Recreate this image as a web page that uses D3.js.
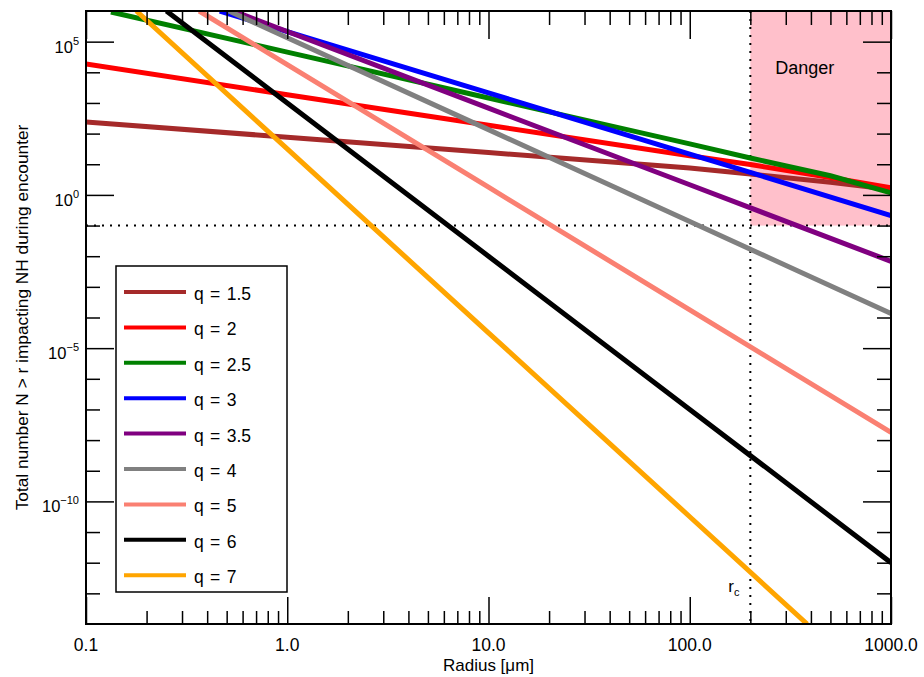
<!DOCTYPE html>
<html>
<head>
<meta charset="utf-8">
<script src="https://cdn.jsdelivr.net/npm/d3@7"></script>
<style>
  body { margin: 0; background: #fff; }
  svg { font-family: "Liberation Sans", Arial, Helvetica, sans-serif; }
</style>
</head>
<body>
<div id="chart"></div>
<script>
// size distributions, values as [radius um, N(>r)]
var q15 = [[0.1, 240], [1, 76], [10, 24], [100, 7.6], [200, 4.8], [500, 2.6], [1000, 1.5]];
var q2  = [[0.1, 1.86e4], [1, 1.86e3], [10, 186], [100, 19], [200, 9.8], [500, 3.7], [1000, 1.7]];
var q25 = [[0.133, 9.3e5], [1, 4.57e4], [10, 1.45e3], [100, 46], [200, 16], [500, 4.2], [1000, 1.17]];
var q3  = [[0.462, 1e6], [1, 2.14e5], [10, 2.14e3], [100, 21.4], [200, 5.4], [1000, 0.21]];
var q35 = [[0.54, 1e6], [1, 2.14e5], [10, 676], [100, 2.14], [1000, 0.0068]];
var q4  = [[0.513, 1e6], [1, 1.35e5], [10, 135], [100, 0.135], [1000, 1.35e-4]];
var q5  = [[0.365, 1e6], [1, 1.78e4], [10, 1.78], [100, 1.78e-4], [1000, 1.78e-8]];
var q6  = [[0.251, 1e6], [1, 1e3], [10, 1e-2], [100, 1e-7], [1000, 1e-12]];
var q7  = [[0.178, 1e6], [1, 31.6], [10, 3.16e-5], [100, 3.16e-11], [383, 1e-14]];

var seriesData = [q15, q2, q25, q3, q35, q4, q5, q6, q7];
var seriesNames = ["q = 1.5", "q = 2", "q = 2.5", "q = 3", "q = 3.5", "q = 4", "q = 5", "q = 6", "q = 7"];
var seriesColors = ["#a52a2a", "#ff0000", "#008000", "#0000ff", "#800080", "#808080", "#fa8072", "#000000", "#ffa500"];

var xMajor = [0.1, 1, 10, 100, 1000];
var xLabels = ["0.1", "1.0", "10.0", "100.0", "1000.0"];
var yMajor = [1e5, 1, 1e-5, 1e-10];
var yExp = ["5", "0", "\u22125", "\u221210"];

var rCrit = 200, nCrit = 0.1;

var w = 924, h = 677,
    p = {"top": 11, "right": 33, "bottom": 53, "left": 86};

var x = d3.scaleLog().domain([0.1, 1000]).range([p.left, w - p.right]);
var y = d3.scaleLog().domain([1e-14, 1e6]).range([h - p.bottom, p.top]);

var svg = d3.select("#chart").append("svg")
  .attr("width", w)
  .attr("height", h);

svg.append("clipPath").attr("id", "clip")
  .append("rect")
    .attr("x", p.left).attr("y", p.top)
    .attr("width", w - p.left - p.right)
    .attr("height", h - p.top - p.bottom);

// danger zone
svg.append("rect")
  .attr("x", x(rCrit))
  .attr("y", y(1e6))
  .attr("width", x(1000) - x(rCrit))
  .attr("height", y(nCrit) - y(1e6))
  .attr("fill", "#ffc0cb");

svg.append("text")
  .attr("x", x(rCrit) + 25)
  .attr("y", 74)
  .attr("font-size", 18)
  .text("Danger");

// dotted limits
svg.append("line")
  .attr("x1", x(0.1)).attr("x2", x(1000))
  .attr("y1", y(nCrit)).attr("y2", y(nCrit))
  .attr("stroke", "#000").attr("stroke-width", 2)
  .attr("stroke-dasharray", "2,6");
svg.append("line")
  .attr("x1", x(rCrit)).attr("x2", x(rCrit))
  .attr("y1", y(1e6)).attr("y2", y(1e-14))
  .attr("stroke", "#000").attr("stroke-width", 2)
  .attr("stroke-dasharray", "2,6");

var rc = svg.append("text")
  .attr("x", x(rCrit) - 22)
  .attr("y", 592)
  .attr("font-size", 17)
  .text("r");
rc.append("tspan").attr("dy", 4).attr("font-size", 11).text("c");

// curves
var line = d3.line()
  .x(function(d){ return x(d[0]) })
  .y(function(d){ return y(d[1]) });

svg.append("g").attr("clip-path", "url(#clip)")
  .selectAll("path")
  .data(seriesData)
  .enter()
    .append("path")
      .attr("d", line)
      .attr("fill", "none")
      .attr("stroke", function(d, i){ return seriesColors[i] })
      .attr("stroke-width", 5);

// axes: minor ticks every decade / 1..9, major with labels
var xMinor = [];
for (var e = -1; e < 3; e++) for (var k = 2; k <= 9; k++) xMinor.push(k * Math.pow(10, e));
var yMinor = [];
for (var e = -13; e <= 5; e++) if (e % 5 != 0) yMinor.push(Math.pow(10, e));

function tickAxis(axis, vals, size) {
  return axis.tickValues(vals).tickSize(size).tickFormat("");
}

var bottom = h - p.bottom, right = w - p.right;
svg.append("g").attr("transform", "translate(0," + bottom + ")").call(tickAxis(d3.axisBottom(x), xMinor, -13));
svg.append("g").attr("transform", "translate(0," + bottom + ")").call(tickAxis(d3.axisBottom(x), xMajor, -27));
svg.append("g").attr("transform", "translate(0," + p.top + ")").call(tickAxis(d3.axisTop(x), xMinor, -14));
svg.append("g").attr("transform", "translate(0," + p.top + ")").call(tickAxis(d3.axisTop(x), xMajor, -28));
svg.append("g").attr("transform", "translate(" + p.left + ",0)").call(tickAxis(d3.axisLeft(y), yMinor, -14));
svg.append("g").attr("transform", "translate(" + p.left + ",0)").call(tickAxis(d3.axisLeft(y), yMajor, -28));
svg.append("g").attr("transform", "translate(" + right + ",0)").call(tickAxis(d3.axisRight(y), yMinor, -14));
svg.append("g").attr("transform", "translate(" + right + ",0)").call(tickAxis(d3.axisRight(y), yMajor, -28));
svg.selectAll(".domain").remove();
svg.selectAll(".tick line").attr("stroke", "#000").attr("stroke-width", 1.5);

svg.append("rect")
  .attr("x", p.left).attr("y", p.top)
  .attr("width", right - p.left).attr("height", bottom - p.top)
  .attr("fill", "none").attr("stroke", "#000").attr("stroke-width", 2);

// tick labels
svg.selectAll(".xlab")
  .data(xMajor)
  .enter()
    .append("text")
      .attr("x", function(d){ return x(d) })
      .attr("y", 651)
      .attr("text-anchor", "middle")
      .attr("font-size", 17.5)
      .text(function(d, i){ return xLabels[i] });

var ylab = svg.selectAll(".ylab")
  .data(yMajor)
  .enter()
    .append("text")
      .attr("x", 79)
      .attr("y", function(d){ return y(d) + 11 })
      .attr("text-anchor", "end")
      .attr("font-size", 16.5);
ylab.append("tspan").text("10");
ylab.append("tspan").attr("dy", -8).attr("font-size", 11).text(function(d, i){ return yExp[i] });

svg.append("text")
  .attr("x", (p.left + right) / 2)
  .attr("y", 671)
  .attr("text-anchor", "middle")
  .attr("font-size", 17)
  .text("Radius [\u03bcm]");

svg.append("text")
  .attr("transform", "translate(28," + ((p.top + bottom) / 2) + ") rotate(-90)")
  .attr("text-anchor", "middle")
  .attr("font-size", 17.3)
  .text("Total number N > r impacting NH during encounter");

// legend
var legend = svg.append("g");
legend.append("rect")
  .attr("x", 116).attr("y", 266)
  .attr("width", 171).attr("height", 326)
  .attr("fill", "#fff").attr("stroke", "#000").attr("stroke-width", 1.5);

var rows = legend.selectAll(".row")
  .data(seriesNames)
  .enter()
    .append("g")
      .attr("transform", function(d, i){ return "translate(0," + (292 + i * 35.4) + ")" });
rows.append("line")
  .attr("x1", 124).attr("x2", 186)
  .attr("stroke", function(d, i){ return seriesColors[i] })
  .attr("stroke-width", 4);
rows.append("text")
  .attr("x", 194).attr("y", 8)
  .attr("font-size", 17.5)
  .attr("word-spacing", 1.5)
  .text(function(d){ return d });
</script>
</body>
</html>
